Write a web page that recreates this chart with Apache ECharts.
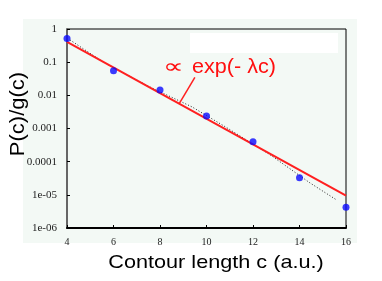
<!DOCTYPE html>
<html><head><meta charset="utf-8">
<script src="https://cdn.jsdelivr.net/npm/echarts@6/dist/echarts.min.js"></script>
<style>html,body{margin:0;padding:0;background:#fff}#c{width:382px;height:281px}</style>
</head><body><div id="c"></div>
<script>
// data
const pointX = [4, 6, 8, 10, 12, 14, 16];
const pointY = [0.52, 0.055, 0.0145, 0.0024, 0.0004, 3.3e-5, 4.2e-6];
const fitX = [4, 16];
const fitY = [0.41, 9.5e-6];
const dotX = [4.13, 5.63, 7.57, 9.38, 10.88, 12.69, 14.45, 15.61];
const dotY = [0.468, 0.0933, 0.0178, 0.00447, 0.00105, 0.00017, 2.29e-5, 6.9e-6];
const pointerX = [9.5, 8.82];
const pointerY = [0.035, 0.0055];
const yTickValues = [1, 0.1, 0.01, 0.001, 0.0001, 1e-5, 1e-6];
const yTickLabels = ['1', '0.1', '0.01', '0.001', '0.0001', '1e-05', '1e-06'];
const xTitle = 'Contour length c (a.u.)';
const yTitle = 'P(c)/g(c)';

const zip = (a, b) => a.map((v, i) => [v, b[i]]);
const chart = echarts.init(document.getElementById('c'));
const serif = 'Liberation Serif';
const sans = '"Liberation Sans", Arial, sans-serif';
chart.setOption({
  animation: false,
  backgroundColor: '#ffffff',
  grid: { left: 67, right: 36, top: 29, bottom: 53, show: true, borderColor: '#000', borderWidth: 1, backgroundColor: 'transparent' },
  graphic: [
    { type: 'rect', z: -10, silent: true, shape: { x: 23, y: 19, width: 334, height: 224 }, style: { fill: '#f3f9f5' } },
    { type: 'rect', z: -9, silent: true, shape: { x: 190, y: 33, width: 148, height: 20 }, style: { fill: '#ffffff' } },
    { type: 'text', z: 10, x: 163, y: 68, scaleX: 1.45, style: { text: '\u221d', fill: '#ff1010', font: '20px "DejaVu Sans", sans-serif', textVerticalAlign: 'middle' } },
    { type: 'text', z: 10, x: 192, y: 67, scaleX: 1.08, style: { text: 'exp(- \u03bbc)', fill: '#ff1010', font: '20px ' + sans, textVerticalAlign: 'middle' } },
    { type: 'text', z: 10, x: 216, y: 263, scaleX: 1.14, style: { text: xTitle, fill: '#000', font: '19px ' + sans, textAlign: 'center', textVerticalAlign: 'middle' } },
    { type: 'text', z: 10, x: 18, y: 114, rotation: Math.PI / 2, scaleX: 1.1, style: { text: yTitle, fill: '#000', font: '20px ' + sans, textAlign: 'center', textVerticalAlign: 'middle' } }
  ],
  xAxis: {
    type: 'value', min: 4, max: 16, interval: 2,
    axisLine: { show: true, onZero: false, lineStyle: { color: '#000', width: 2 } },
    axisTick: { show: true, inside: true, length: 3, lineStyle: { color: '#000' } },
    axisLabel: { fontFamily: serif, fontSize: 10, color: '#222', margin: 9 },
    splitLine: { show: false }
  },
  yAxis: {
    type: 'log', logBase: 10, min: 1e-6, max: 1,
    axisLine: { show: true, lineStyle: { color: '#666', width: 2 } },
    axisTick: { show: true, inside: true, length: 3, lineStyle: { color: '#000' } },
    axisLabel: {
      fontFamily: serif, fontSize: 11, color: '#222', margin: 10,
      formatter: v => { const i = yTickValues.findIndex(t => Math.abs(Math.log10(t) - Math.log10(v)) < 1e-6); return i >= 0 ? yTickLabels[i] : ''; }
    },
    splitLine: { show: false }, minorTick: { show: false }
  },
  series: [
    { type: 'line', data: zip(dotX, dotY), symbol: 'none', lineStyle: { color: '#222', width: 1, type: [1, 2] }, z: 2 },
    { type: 'line', data: zip(fitX, fitY), symbol: 'none', lineStyle: { color: '#ff2020', width: 2 }, z: 3 },
    { type: 'line', data: zip(pointerX, pointerY), symbol: 'none', lineStyle: { color: '#ff2020', width: 1.5 }, z: 3 },
    { type: 'scatter', data: zip(pointX, pointY), symbol: 'circle', symbolSize: 7, itemStyle: { color: '#0a0aff' }, z: 4 }
  ]
});
</script></body></html>
